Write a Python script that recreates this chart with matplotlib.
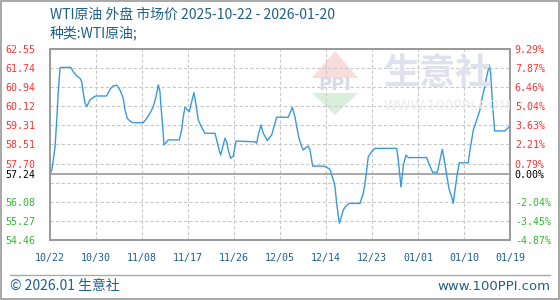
import numpy as np
import matplotlib
matplotlib.use("Agg")
from matplotlib import pyplot as plt
from matplotlib.patches import Polygon, Rectangle
from matplotlib.lines import Line2D

plt.rcParams['font.family'] = ['Noto Sans CJK SC', 'DejaVu Sans']

# data: day offset from 2025-10-22, price (USD/bbl)
days = [0, 0.33, 0.65, 0.98, 1.3, 1.62, 1.96, 2.1, 4.05, 4.56, 5.22, 5.87, 6.2, 6.52,
        6.85, 7.18, 7.83, 8.47, 9.0, 11.09, 11.74, 12.27, 13.05, 13.7, 14.34, 14.67,
        15.12, 15.65, 16.18, 18.25, 18.92, 19.57, 20.21, 20.74, 21.19, 21.52, 21.66,
        21.85, 22.05, 22.3, 23.15, 25.3, 25.76, 26.08, 26.41, 27.25, 27.72, 28.17,
        28.57, 29.02, 29.68, 30.33, 32.28, 32.62, 33.07, 33.4, 33.79, 34.24, 34.57,
        34.88, 35.35, 35.86, 36.39, 40.1, 40.44, 40.75, 41.28, 41.73, 42.52, 43.38,
        44.02, 44.35, 46.62, 47.41, 47.93, 48.27, 48.72, 49.24, 49.56, 50.03, 50.54,
        50.87, 51.39, 53.47, 54.13, 54.78, 55.43, 55.76, 56.09, 56.6, 56.93, 57.38,
        57.91, 58.56, 60.65, 61.3, 61.63, 61.96, 62.27, 62.94, 63.59, 67.83, 68.14,
        68.67, 69.15, 69.65, 70.1, 73.7, 74.21, 74.88, 75.78, 76.3, 76.75, 77.15,
        77.61, 78.12, 78.59, 78.9, 79.24, 79.69, 80.08, 81.84, 82.17, 82.5, 82.82,
        83.48, 84.13, 84.46, 84.91, 85.44, 85.95, 86.22, 86.61, 87.0, 89.02, 90]
prices = [57.24, 57.42, 57.85, 58.40, 59.47, 60.74, 61.74, 61.77, 61.77, 61.59, 61.41,
          61.31, 61.16, 60.67, 60.26, 60.11, 60.39, 60.50, 60.56, 60.56, 60.84, 60.98,
          61.02, 60.81, 60.46, 59.97, 59.61, 59.50, 59.43, 59.43, 59.61, 59.83, 60.11,
          60.53, 61.03, 60.74, 60.25, 59.75, 59.26, 58.48, 58.70, 58.70, 59.12, 59.68,
          60.08, 59.89, 60.32, 60.70, 60.18, 59.54, 59.23, 58.98, 58.98, 58.70, 58.27,
          58.06, 58.41, 58.77, 58.62, 58.27, 57.92, 58.02, 58.65, 58.62, 58.56, 58.91,
          59.33, 58.98, 58.67, 58.91, 59.40, 59.66, 59.66, 60.08, 59.68, 59.26, 58.77,
          58.41, 58.27, 58.37, 58.44, 58.27, 57.59, 57.59, 57.54, 57.45, 57.00, 56.72,
          56.01, 55.17, 55.38, 55.73, 55.90, 56.01, 56.01, 56.44, 56.86, 57.42, 57.99,
          58.20, 58.34, 58.34, 57.85, 56.70, 57.64, 58.06, 57.95, 57.95, 57.64, 57.33,
          57.33, 57.85, 58.30, 57.85, 57.21, 56.58, 56.29, 56.01, 56.58, 57.28, 57.73,
          57.73, 58.27, 58.70, 59.12, 59.54, 59.97, 60.39, 60.81, 61.38, 61.87, 61.52,
          60.11, 59.08, 59.08, 59.29]

base = 57.24
grid_vals = [62.55, 61.74, 60.94, 60.12, 59.31, 58.51, 57.70, 56.89, 56.08, 55.27, 54.46]
ytick_vals = [62.55, 61.74, 60.94, 60.12, 59.31, 58.51, 57.70, 57.24, 56.08, 55.27, 54.46]
ytick_labels = ['62.55', '61.74', '60.94', '60.12', '59.31', '58.51', '57.70', '57.24',
                '56.08', '55.27', '54.46']
pct_labels = ['9.29%', '7.87%', '6.46%', '5.04%', '3.63%', '2.21%', '0.79%', '0.00%',
              '-2.04%', '-3.45%', '-4.87%']
xtick_days = [0, 9, 18, 27, 36, 45, 54, 63, 72, 81, 90]
xtick_labels = ['10/22', '10/30', '11/08', '11/17', '11/26', '12/05', '12/14', '12/23',
                '01/01', '01/10', '01/19']

title = 'WTI原油 外盘 市场价 2025-10-22 - 2026-01-20'
subtitle = '种类:WTI原油;'

W, H = 560, 300
fig = plt.figure(figsize=(5.6, 3.0), dpi=100)
fig.patch.set_facecolor('white')

def fx(px):
    return px / W

def fy(py):
    return 1 - py / H

ax = fig.add_axes([fx(50), fy(240), fx(460), 191 / H])
ax.set_xlim(0, 90)
ax.set_ylim(54.46, 62.55)

mono = 'DejaVu Sans Mono'
red, green, blue = '#ff3333', '#33b833', '#1f5f8c'

def lab_color(v):
    if abs(v - base) < 1e-6:
        return 'black'
    return red if v > base else green

for v in grid_vals:
    ax.axhline(v, color='#c8c8c8', lw=0.8, ls=(0, (3, 2)), zorder=1)
for d in xtick_days[1:-1]:
    ax.axvline(d, color='#c8c8c8', lw=0.8, ls=(0, (3, 2)), zorder=1)
ax.axhline(base, color='#999999', lw=1.2, zorder=2)

# watermark
wm = '#dfe2ec'
fig.text(fx(384), fy(73), '生意社', fontsize=26, color=wm, va='center', ha='left',
         fontweight='bold', zorder=0)
fig.text(fx(384), fy(106), 'WWW.100PPI.COM', fontsize=10, color='#ececec',
         va='center', ha='left', family='DejaVu Sans', zorder=0)
tri_top = Polygon([[fx(312), fy(78)], [fx(335), fy(51)], [fx(358), fy(78)]],
                  closed=True, transform=fig.transFigure, facecolor='#fadcdc',
                  edgecolor='none', zorder=0)
tri_bot = Polygon([[fx(312), fy(93)], [fx(358), fy(93)], [fx(335), fy(115)]],
                  closed=True, transform=fig.transFigure, facecolor='#d9efdc',
                  edgecolor='none', zorder=0)
fig.add_artist(tri_top)
fig.add_artist(tri_bot)
fig.text(fx(335), fy(85), 'PPI', fontsize=13, color='#d5dbe8', ha='center', va='center',
         family='DejaVu Sans', fontweight='bold', zorder=0)

ax.patch.set_alpha(0)
ax.plot(days, prices, color='#3a9ad9', lw=1.0, zorder=3)

ax.set_xticks(xtick_days)
ax.set_xticklabels(xtick_labels, family=mono, fontsize=7.2, color=blue)
ax.set_yticks(ytick_vals)
ax.set_yticklabels(ytick_labels, family=mono, fontsize=7.2)
for t, v in zip(ax.get_yticklabels(), ytick_vals):
    t.set_color(lab_color(v))
ax.tick_params(axis='both', length=0)
ax.tick_params(axis='y', pad=10.5)
ax.tick_params(axis='x', pad=9)

ax2 = ax.twinx()
ax2.set_ylim(54.46, 62.55)
ax2.set_yticks(ytick_vals)
ax2.set_yticklabels(pct_labels, family=mono, fontsize=7.2)
for t, v in zip(ax2.get_yticklabels(), ytick_vals):
    t.set_color(lab_color(v))
ax2.tick_params(axis='y', length=0, pad=3.5)

for a in (ax, ax2):
    for s in a.spines.values():
        s.set_color('#999999')
        s.set_linewidth(1.2)

fig.text(fx(50), fy(15), title, fontsize=10, color=blue, va='center', ha='left')
fig.text(fx(50), fy(33), subtitle, fontsize=10, color=blue, va='center', ha='left')

fig.add_artist(Line2D([fx(10), fx(550)], [fy(275), fy(275)], color='#aaaaaa', lw=1,
                      transform=fig.transFigure))
fig.text(fx(10), fy(286), '© 2026.01 生意社', fontsize=10, color=blue, va='center', ha='left')
fig.text(fx(550), fy(286), 'www.100PPI.com', fontsize=9.5, color=blue, va='center', ha='right',
         family='DejaVu Sans')

fig.add_artist(Rectangle((0.001, 0.002), 0.997, 0.995, transform=fig.transFigure,
                         fill=False, edgecolor='#999999', lw=1.2))

fig.savefig('out.png', dpi=100)
